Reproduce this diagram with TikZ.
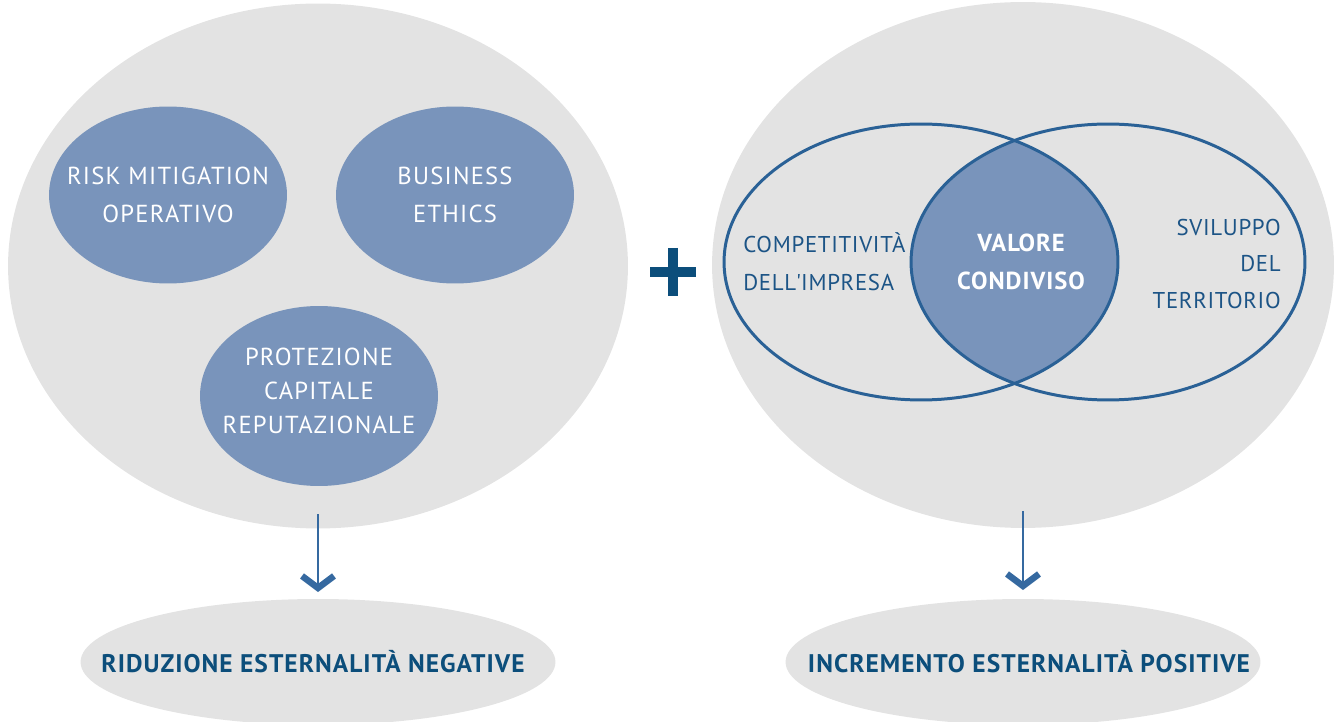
\documentclass[tikz,border=0pt]{standalone}
\usepackage{fontspec}
\setmainfont{PT Sans}
\newfontfamily\spotfont[LetterSpace=5]{PT Sans}
\newfontfamily\sidefont[LetterSpace=3]{PT Sans}
\newfontfamily\corefont[LetterSpace=4]{PT Sans Bold}
\newfontfamily\resultfont[LetterSpace=4]{PT Sans Bold}
\usepackage{tikz}
\usetikzlibrary{shapes.geometric, arrows.meta, positioning}
\usepackage{xcolor}

\definecolor{groupgray}{HTML}{E3E3E3}
\definecolor{spotblue}{HTML}{7994BB}
\definecolor{ringblue}{HTML}{2A6196}
\definecolor{inkblue}{HTML}{1C5486}
\definecolor{deepblue}{HTML}{0C4E7B}
\definecolor{flowblue}{HTML}{3569A0}

\begin{document}
\begin{tikzpicture}[x=0.02cm, y=-0.02cm,
    group/.style = {ellipse, fill=groupgray, inner sep=0pt, outer sep=0pt},
    spot/.style = {ellipse, fill=spotblue, inner sep=0pt, outer sep=0pt, minimum width=4.76cm, minimum height=3.54cm},
    spottext/.style = {text=white, align=center, font=\spotfont\fontsize{14}{22}\selectfont},
    ring/.style = {ellipse, draw=ringblue, line width=1.7pt, inner sep=0pt, outer sep=0pt, minimum width=7.88cm, minimum height=5.52cm},
    sidetext/.style = {text=inkblue, inner sep=0pt, font=\sidefont\fontsize{13}{21.5}\selectfont},
    result/.style = {ellipse, fill=groupgray, inner sep=0pt, outer sep=0pt, minimum width=9.5cm, minimum height=2.52cm},
    resulttext/.style = {text=deepblue, font=\resultfont\fontsize{14.5}{16}\selectfont},
    flow/.style = {draw=flowblue, line width=1.6pt, -{Straight Barb[length=0.24cm, width=0.64cm, line width=0.13cm]}},
    plusbar/.style = {draw=deepblue, line width=0.2cm}
]
\useasboundingbox (0,0) rectangle (1334,722);

% Left group
\node (lgroup) [group, minimum width=12.4cm, minimum height=10.5cm] at (318,266) {};
\node (risk) [spot, label={[spottext]center:{RISK MITIGATION\\OPERATIVO}}] at (168,195) {};
\node (ethics) [spot, label={[spottext]center:{BUSINESS\\ETHICS}}] at (455,195) {};
\node (rep) [spot, minimum height=3.6cm, label={[spottext, font=\spotfont\fontsize{14}{19.3}\selectfont, yshift=0.1cm]center:{PROTEZIONE\\CAPITALE\\REPUTAZIONALE}}] at (319,396) {};

% Right group
\node (rgroup) [group, minimum width=12.44cm, minimum height=10.52cm] at (1023,265) {};

% Shared part of the two rings
\begin{scope}
  \clip (921,262) ellipse [x radius=3.94cm, y radius=2.76cm];
  \fill [spotblue] (1108,262) ellipse [x radius=3.94cm, y radius=2.76cm];
\end{scope}
\node (firm) [ring] at (921,262) {};
\node (land) [ring] at (1108,262) {};

\node (compet) [sidetext, anchor=west, align=left] at (743,262) {COMPETITIVITÀ\\DELL\textquotesingle IMPRESA};
\node (valore) [sidetext, text=white, font=\corefont\fontsize{14}{21.5}\selectfont, align=center] at (1021,262) {VALORE\\CONDIVISO};
\node (svil) [sidetext, anchor=east, align=right, font=\sidefont\fontsize{13}{20.5}\selectfont] at (1281,264) {SVILUPPO\\DEL\\TERRITORIO};

% Plus between the groups
\coordinate (plus) at (673,272);
\draw [plusbar] (plus) ++(-23,0) -- ++(46,0);
\draw [plusbar] (plus) ++(0,-24) -- ++(0,48);

% Outcomes
\node (lout) [result, label={[resulttext, xshift=-0.1cm]center:RIDUZIONE ESTERNALITÀ NEGATIVE}] at (318,662) {};
\node (rout) [result, label={[resulttext, xshift=0.12cm]center:INCREMENTO ESTERNALITÀ POSITIVE}] at (1023,662) {};

% Arrows
\draw [flow, shorten <=-0.28cm, shorten >=0.14cm] (lgroup.south) -- (lout.north);
\draw [flow, shorten <=-0.34cm, shorten >=0.18cm] (rgroup.south) -- (rout.north);

\end{tikzpicture}
\end{document}
